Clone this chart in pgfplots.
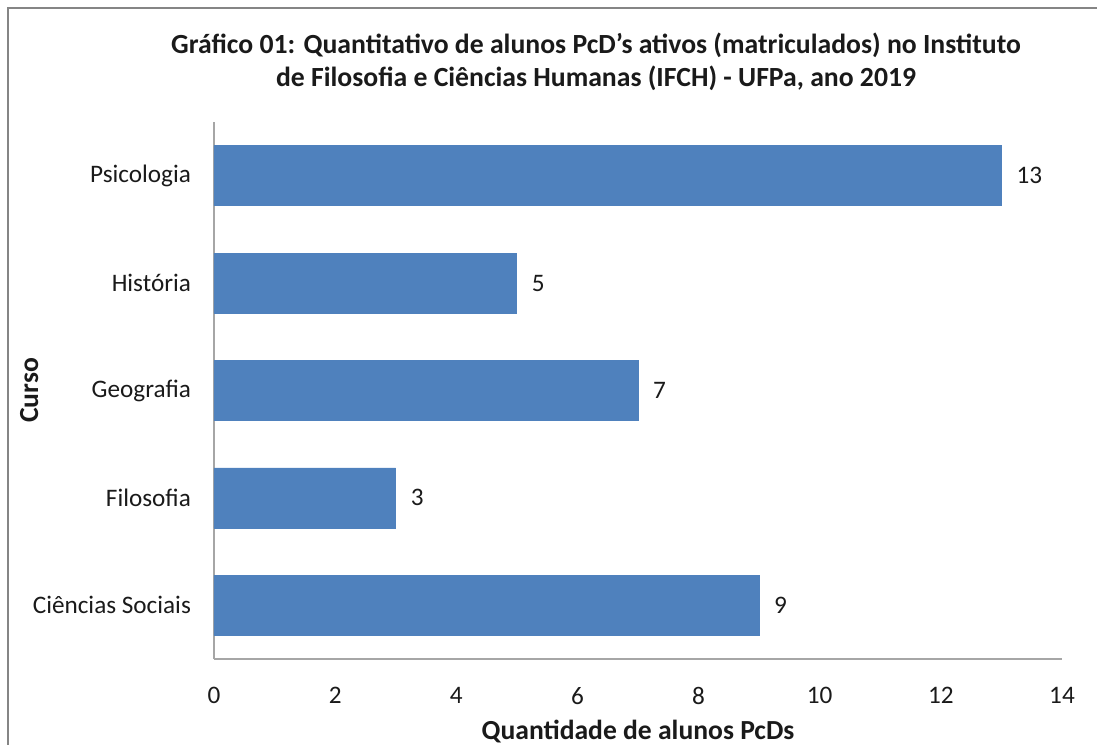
\documentclass[border=0pt]{standalone}
\usepackage{fontspec}
\setmainfont{Carlito}
\usepackage{pgfplots}
\pgfplotsset{compat=1.18}
\definecolor{barblue}{HTML}{4F81BD}
\definecolor{axgray}{HTML}{A6A6A6}
\definecolor{txt}{HTML}{1A1A1A}
\begin{document}
\begin{tikzpicture}[x=0.5pt,y=0.5pt]
\path[use as bounding box] (0,0) rectangle (1097,744);
\draw[color=axgray!80!black, line width=0.8pt] (8,-20) -- (8,736) -- (1120,736);
\node[font=\bfseries\fontsize{13.85}{16.5}\selectfont, text=txt, align=center] at (596,682)
  {Gráfico 01: Quantitativo de alunos PcD's ativos (matriculados) no Instituto\\de Filosofia e Ciências Humanas (IFCH) - UFPa, ano 2019};
\begin{axis}[
  at={(107pt,42.5pt)}, anchor=south west,
  scale only axis, width=424pt, height=268.5pt,
  xbar, bar width=30pt,
  xmin=0, xmax=14, ymin=-0.5, ymax=4.5,
  xtick={0,2,...,14}, ytick={0,1,2,3,4},
  yticklabels={Ciências Sociais,Filosofia,Geografia,História,Psicologia},
  axis x line*=bottom, axis y line*=left,
  axis line style={axgray, line width=0.8pt, -},
  major tick length=0pt,
  tick label style={font=\fontsize{12.6}{14}\selectfont, text=txt},
  /pgf/number format/assume math mode=true,
  xticklabel style={yshift=-10.5pt},
  yticklabel style={xshift=-8pt},
  xlabel={Quantidade de alunos PcDs},
  ylabel={Curso},
  label style={font=\bfseries\fontsize{13.8}{16}\selectfont, text=txt},
  xlabel style={at={(axis description cs:0.5,0)}, anchor=center, yshift=-36.5pt},
  ylabel style={at={(axis description cs:-0.218,0.5)}, anchor=center},
  nodes near coords,
  nodes near coords style={font=\fontsize{12.6}{14}\selectfont, text=txt, anchor=west, xshift=4pt},
  clip=false,
]
\addplot[fill=barblue, draw=barblue] coordinates {(9,0) (3,1) (7,2) (5,3) (13,4)};
\end{axis}
\end{tikzpicture}
\end{document}
